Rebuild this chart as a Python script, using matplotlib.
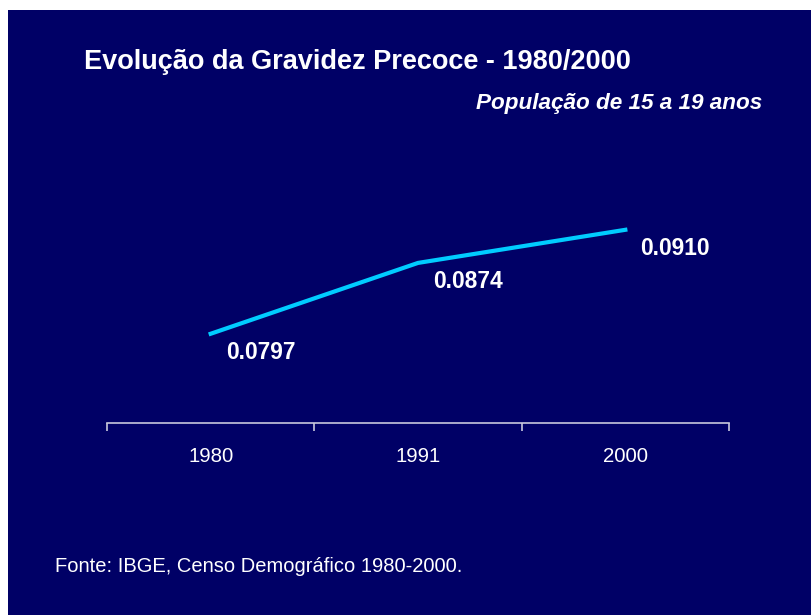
import numpy as np
import matplotlib.pyplot as plt
from matplotlib.patches import Rectangle

plt.rcParams['font.family'] = ['Liberation Sans', 'DejaVu Sans']

# Data
years = ['1980', '1991', '2000']
rates = [0.0797, 0.0874, 0.0910]
rate_labels = ['0.0797', '0.0874', '0.0910']

navy = '#000066'
fig = plt.figure(figsize=(8.11, 6.15), dpi=100, facecolor='white')

# navy panel with small white margin on top and left
fig.patches.append(Rectangle((8 / 811, 0), 1, 1 - 10 / 615, transform=fig.transFigure,
                             facecolor=navy, edgecolor='none', zorder=-1))

ax = fig.add_axes([107 / 811, 1 - 423 / 615, 622 / 811, (423 - 147) / 615])
ax.set_facecolor('none')

x = np.arange(len(years))
ax.plot(x, rates, color='#00ccff', lw=3.0, solid_joinstyle='miter')

for xi, yi, lab in zip(x, rates, rate_labels):
    ax.annotate(lab, (xi, yi), xytext=(50, -19), textcoords='offset pixels',
                ha='center', va='center', color='white', fontsize=16.4, fontweight='bold')

ax.set_xlim(-0.5, 2.5)
ax.set_ylim(0.07, 0.10)
for s in ['top', 'right', 'left']:
    ax.spines[s].set_visible(False)
ax.spines['bottom'].set_color('#c8c8dc')
ax.spines['bottom'].set_linewidth(1.2)
ax.set_yticks([])
ax.set_xticks([-0.5, 0.5, 1.5, 2.5])
ax.set_xticklabels([])
ax.tick_params(axis='x', which='major', direction='out', length=6, color='#c8c8dc', width=1.2)
ax.set_xticks(x, minor=True)
ax.set_xticklabels(years, minor=True)
ax.tick_params(axis='x', which='minor', length=0, pad=17, labelsize=14.7, labelcolor='white')

fig.text(84 / 811, 1 - 62 / 615, 'Evolução da Gravidez Precoce - 1980/2000', color='white',
         fontsize=19.5, fontweight='bold', ha='left', va='center')
fig.text(762 / 811, 1 - 104 / 615, 'População de 15 a 19 anos', color='white',
         fontsize=16.2, fontweight='bold', fontstyle='italic', ha='right', va='center')
fig.text(55 / 811, 1 - 566 / 615, 'Fonte: IBGE, Censo Demográfico 1980-2000.', color='white',
         fontsize=14.5, ha='left', va='center')

fig.savefig('out.png', dpi=100, facecolor='white')
